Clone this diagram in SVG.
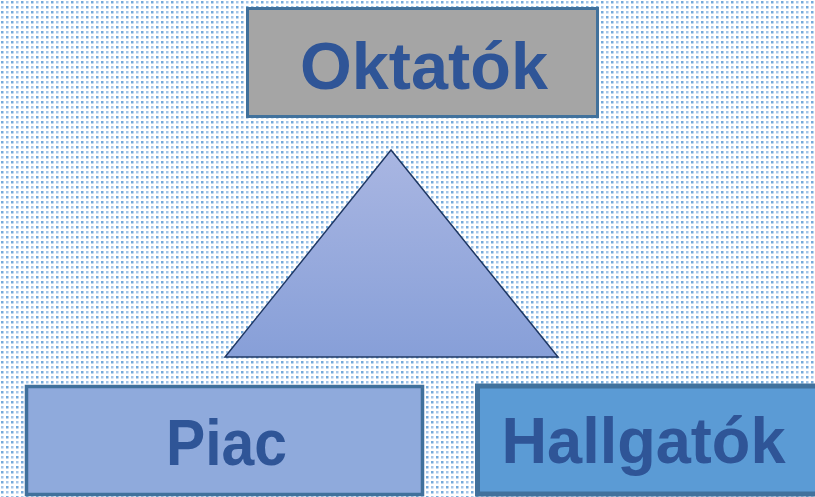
<svg xmlns="http://www.w3.org/2000/svg" width="815" height="497" viewBox="0 0 815 497">
  <defs>
    <!-- staggered dotted backdrop -->
    <pattern id="dots" x="0" y="0" width="10" height="10" patternUnits="userSpaceOnUse">
      <rect x="1" y="1" width="2.5" height="2.5" fill="#5b9bd5" opacity="0.85"/>
      <rect x="6" y="1" width="2.5" height="2.5" fill="#8fb8e4" opacity="0.8"/>
      <rect x="1" y="6" width="2.5" height="2.5" fill="#8fb8e4" opacity="0.8"/>
      <rect x="6" y="6" width="2.5" height="2.5" fill="#5b9bd5" opacity="0.85"/>
    </pattern>
    <linearGradient id="triFill" x1="0" y1="0" x2="0" y2="1">
      <stop offset="0" stop-color="#a9b6e2"/>
      <stop offset="1" stop-color="#879fd8"/>
    </linearGradient>
    <style>
      .box { stroke: #41719c; }
      .label { font-family: "Liberation Sans", Arial, sans-serif; font-weight: bold; fill: #2f5597; text-anchor: middle; }
    </style>
  </defs>

  <rect width="815" height="497" fill="#ffffff"/>
  <rect width="815" height="497" fill="url(#dots)"/>

  <g id="connectors">
    <polygon points="391,150 225,357 558,357" fill="url(#triFill)" stroke="#1f3864" stroke-width="1.5" stroke-linejoin="miter"/>
  </g>

  <g id="oktatok">
    <rect class="box" x="247.5" y="8.5" width="350" height="108" fill="#a5a5a5" stroke-width="3"/>
    <text class="label" x="424" y="89" font-size="66" textLength="248" lengthAdjust="spacingAndGlyphs">Oktatók</text>
  </g>

  <g id="piac">
    <rect class="box" x="26.5" y="386.5" width="396" height="108" fill="#8faadc" stroke-width="3.5"/>
    <text class="label" x="226.5" y="465" font-size="64" textLength="121" lengthAdjust="spacingAndGlyphs">Piac</text>
  </g>

  <g id="hallgatok">
    <rect class="box" x="477.5" y="386" width="345" height="108" fill="#5b9bd5" stroke-width="5"/>
    <text class="label" x="643.5" y="463" font-size="64" textLength="284" lengthAdjust="spacingAndGlyphs">Hallgatók</text>
  </g>
</svg>
